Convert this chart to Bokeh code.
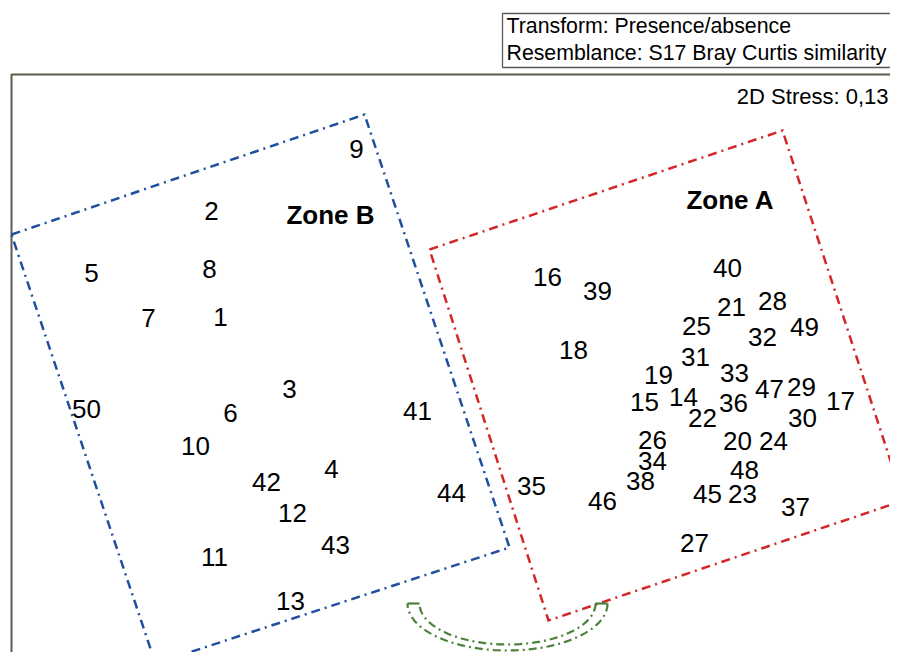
import numpy as np
from bokeh.plotting import figure
from bokeh.models import Range1d, ColumnDataSource, Label
from bokeh.core.properties import value
from bokeh.embed import file_html
from bokeh.resources import INLINE

# ---------------- data (nMDS coordinates) ----------------
zone_b_ids = ["9", "2", "5", "8", "7", "1", "3", "50", "6", "10", "41", "4",
              "42", "12", "43", "11", "13", "44"]
zone_b_x = [-0.495, -1.220, -1.820, -1.230, -1.535, -1.175, -0.830, -1.845, -1.125,
            -1.300, -0.190, -0.620, -0.945, -0.815, -0.600, -1.205, -0.825, -0.020]
zone_b_y = [1.110, 0.800, 0.490, 0.510, 0.265, 0.270, -0.090, -0.190, -0.210,
            -0.375, -0.200, -0.490, -0.555, -0.710, -0.870, -0.930, -1.150, -0.610]

zone_a_ids = ["16", "39", "18", "40", "21", "28", "25", "32", "49", "31", "19", "33",
              "47", "29", "15", "14", "36", "22", "30", "17", "26", "20", "24", "34",
              "38", "48", "35", "46", "45", "23", "37", "27"]
zone_a_x = [0.460, 0.710, 0.590, 1.360, 1.380, 1.585, 1.205, 1.535, 1.745, 1.200, 1.015, 1.395,
            1.570, 1.730, 0.945, 1.140, 1.390, 1.235, 1.735, 1.925, 0.985, 1.410, 1.590, 0.985,
            0.925, 1.445, 0.380, 0.735, 1.260, 1.435, 1.700, 1.195]
zone_a_y = [0.470, 0.400, 0.105, 0.515, 0.320, 0.350, 0.225, 0.170, 0.220, 0.070, -0.020, -0.010,
            -0.090, -0.080, -0.155, -0.130, -0.160, -0.235, -0.235, -0.150, -0.345, -0.350, -0.350, -0.450,
            -0.550, -0.495, -0.575, -0.650, -0.615, -0.615, -0.680, -0.860]

# group outlines (corners)
zone_b_box_x = [-2.220, -0.455, 0.270, -1.500]
zone_b_box_y = [0.680, 1.280, -0.885, -1.465]
zone_a_box_x = [-0.130, 1.635, 2.240, 0.465]
zone_a_box_y = [0.605, 1.200, -0.650, -1.250]

zone_labels = ["Zone B", "Zone A"]
zone_label_x = [-0.625, 1.375]
zone_label_y = [0.780, 0.855]

info_lines = ["Transform: Presence/absence", "Resemblance: S17 Bray Curtis similarity"]
stress_text = "2D Stress: 0,13"

# ---------------- layout ----------------
W, H = 890, 652
OX, OY, S = 455.0, 370.0, 200.0   # canvas-pixel -> plot-unit mapping


def px(v):
    return (np.asarray(v, dtype=float) - OX) / S


def py(v):
    return (OY - np.asarray(v, dtype=float)) / S


p = figure(width=W, height=H, output_backend="svg", toolbar_location=None,
           x_range=Range1d(float(px(0)), float(px(W))),
           y_range=Range1d(float(py(H)), float(py(0))),
           x_axis_location=None, y_axis_location=None, min_border=0)
p.grid.visible = False
p.outline_line_color = None
p.background_fill_color = "white"
p.border_fill_color = "white"

FONT = value("Liberation Sans")

# frame (left and top)
p.line(x=px([11, 11, 920]), y=py([700, 74, 74]), line_color="#5c5c4c", line_width=2)
# info box
p.line(x=px([920, 502, 502, 920]), y=py([13, 13, 67, 67]), line_color="#555555", line_width=1.3)

# group outlines
for bx, by, col in [(zone_b_box_x, zone_b_box_y, "#1f4f9e"),
                    (zone_a_box_x, zone_a_box_y, "#d42626")]:
    p.line(x=bx + bx[:1], y=by + by[:1], line_color=col, line_width=2.5,
           line_dash="9 5 2 5", line_join="miter")

# green double arc linking the groups
cx, cy = float(px(507)), float(py(603))
t = np.linspace(0, np.pi, 80)
for rx, ry in [(100 / S, 47 / S), (88 / S, 41 / S)]:
    p.line(x=cx + rx * np.cos(t), y=cy - ry * np.sin(t), line_color="#4a803a",
           line_width=2.2, line_dash="8 4 2 4")
p.line(x=px([407, 419]), y=py([603, 603]), line_color="#4a803a", line_width=2.2)
p.line(x=px([595, 607]), y=py([603, 603]), line_color="#4a803a", line_width=2.2)

# sample labels
src = ColumnDataSource(dict(x=zone_b_x + zone_a_x, y=zone_b_y + zone_a_y,
                            t=zone_b_ids + zone_a_ids))
p.text(x="x", y="y", text="t", source=src, text_font=FONT,
       text_font_size=value("26px"), text_align="center", text_baseline="middle",
       text_color="black")

# zone titles
p.text(x=zone_label_x, y=zone_label_y, text=zone_labels, text_font=FONT,
       text_font_size=value("26px"), text_font_style="bold", text_align="center",
       text_baseline="middle", text_color="black")

# info texts
for i, line in enumerate(info_lines):
    p.add_layout(Label(x=float(px(506)), y=float(py(25 + 27 * i)), text=line,
                       text_font="Liberation Sans", text_font_size="21.3px",
                       text_baseline="middle", text_align="left", text_color="black"))
p.add_layout(Label(x=float(px(888)), y=float(py(96)), text=stress_text,
                   text_font="Liberation Sans", text_font_size="22px",
                   text_baseline="middle", text_align="right", text_color="black"))

open("out.html", "w").write(file_html(p, INLINE))
